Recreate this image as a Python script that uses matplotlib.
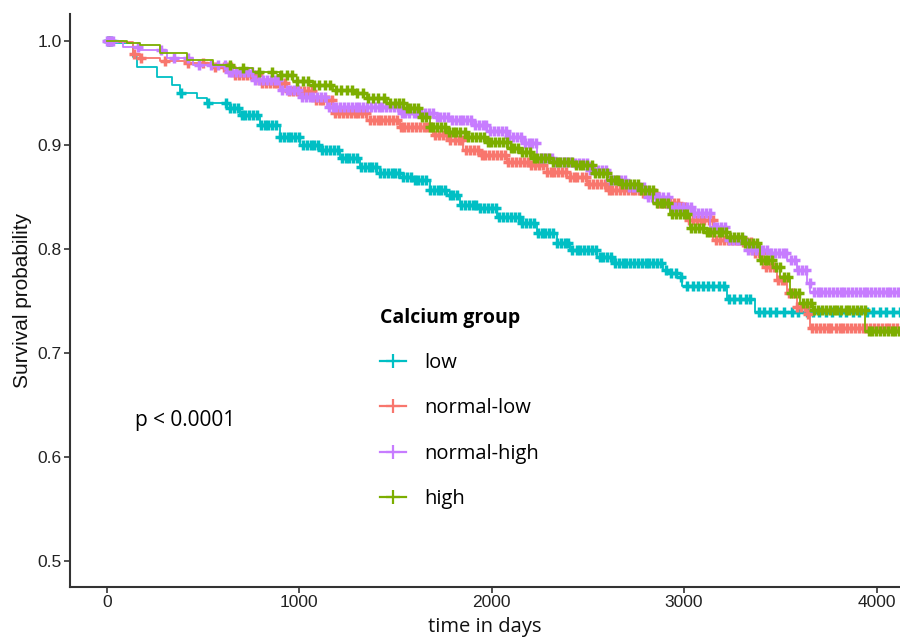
import numpy as np
import matplotlib
matplotlib.use("Agg")
import matplotlib.pyplot as plt
from matplotlib.lines import Line2D

plt.rcParams["font.family"] = ["Liberation Sans", "DejaVu Sans"]

# Kaplan-Meier steps (days, survival)
LOW_T = [0, 42, 135, 156, 260, 338, 379, 468, 520, 624, 691, 795, 899, 1003, 1107, 1211, 1315, 1419,
         1523, 1590, 1679, 1767, 1835, 1939, 2027, 2147, 2235, 2339, 2406, 2547, 2630, 2890, 2925, 2963,
         2989, 3223, 3368, 4130]
LOW_S = [1.0, 0.998, 0.985, 0.975, 0.965, 0.958, 0.950, 0.945, 0.940, 0.936, 0.929, 0.919, 0.908, 0.900,
         0.895, 0.888, 0.879, 0.873, 0.869, 0.866, 0.857, 0.852, 0.842, 0.839, 0.831, 0.825, 0.815, 0.806,
         0.799, 0.792, 0.787, 0.780, 0.777, 0.773, 0.764, 0.752, 0.739, 0.739]

NLOW_T = [0, 16, 135, 172, 275, 416, 551, 655, 795, 936, 1071, 1175, 1351, 1523, 1694, 1783, 1850, 1939,
          2079, 2199, 2287, 2391, 2495, 2599, 2786, 2859, 2978, 3015, 3150, 3290, 3358, 3410, 3482, 3534,
          3586, 3638, 3654, 4130]
NLOW_S = [1.0, 0.999, 0.988, 0.984, 0.981, 0.979, 0.975, 0.967, 0.960, 0.952, 0.943, 0.931, 0.924, 0.917,
          0.910, 0.905, 0.895, 0.890, 0.884, 0.881, 0.874, 0.869, 0.863, 0.857, 0.854, 0.844, 0.840, 0.828,
          0.809, 0.807, 0.796, 0.783, 0.770, 0.758, 0.744, 0.738, 0.724, 0.724]

NHIGH_T = [0, 83, 172, 312, 447, 624, 759, 899, 1003, 1143, 1523, 1694, 1783, 1902, 1975, 2079, 2162,
           2235, 2318, 2422, 2495, 2599, 2703, 2807, 2926, 3046, 3134, 3223, 3327, 3446, 3534, 3586, 3638,
           3654, 4130]
NHIGH_S = [1.0, 0.994, 0.991, 0.984, 0.977, 0.970, 0.963, 0.953, 0.946, 0.937, 0.931, 0.927, 0.924, 0.919,
           0.914, 0.908, 0.902, 0.888, 0.884, 0.883, 0.876, 0.866, 0.860, 0.850, 0.840, 0.835, 0.821, 0.809,
           0.799, 0.796, 0.789, 0.780, 0.767, 0.759, 0.759]

HIGH_T = [0, 104, 172, 275, 416, 551, 655, 759, 899, 967, 1071, 1175, 1279, 1351, 1455, 1559, 1627, 1679,
          1767, 1871, 1975, 2079, 2147, 2214, 2318, 2422, 2526, 2599, 2666, 2770, 2838, 2926, 3030, 3119,
          3238, 3306, 3394, 3462, 3498, 3550, 3602, 3670, 3940, 4130]
HIGH_S = [1.0, 0.998, 0.996, 0.989, 0.982, 0.977, 0.974, 0.970, 0.967, 0.962, 0.958, 0.953, 0.950, 0.945,
          0.940, 0.936, 0.927, 0.917, 0.913, 0.908, 0.903, 0.897, 0.893, 0.888, 0.884, 0.881, 0.873, 0.866,
          0.863, 0.857, 0.844, 0.834, 0.820, 0.816, 0.812, 0.806, 0.789, 0.783, 0.773, 0.758, 0.748, 0.741,
          0.721, 0.721]

# censoring times (the "+" ticks); dense runs form the thick bands
LOW_C = [5, 12, 20, 385, 525,
         620, 641, 659, 680, 701, 719, 740, 761, 779, 800, 821, 839, 860, 881, 899, 920, 941, 959, 980,
         1001, 1019, 1040, 1061, 1079, 1100, 1121, 1139, 1160, 1181, 1199, 1220, 1241, 1259, 1280, 1301,
         1319, 1340, 1361, 1379, 1400, 1421, 1439, 1460, 1481, 1499, 1520, 1541, 1559, 1580, 1601, 1619,
         1640, 1661, 1679, 1700, 1721, 1739, 1760, 1781, 1799, 1820, 1841, 1859, 1880, 1901, 1919, 1940,
         1961, 1979, 2000, 2021, 2039, 2060, 2081, 2099, 2120, 2141, 2159, 2180, 2201, 2219, 2240, 2261,
         2279, 2300, 2321, 2339, 2360, 2381, 2399, 2420, 2441, 2459, 2480, 2501, 2519, 2540, 2561, 2579,
         2600, 2621, 2639, 2660, 2681, 2699, 2720, 2741, 2759, 2780, 2801, 2819, 2840, 2861, 2879,
         2905, 2930, 2960, 2985, 3015, 3045, 3070, 3100, 3125, 3150, 3180, 3205, 3235, 3260, 3290, 3320,
         3345, 3390, 3415, 3445, 3480, 3520, 3560, 3590, 3640, 3670, 3700, 3740, 3770, 3810, 3840, 3880,
         3910, 3950, 3980, 4020, 4050, 4085, 4120]
NLOW_C = [10, 140, 180, 300, 420, 500, 560,
          607, 628, 646, 667, 688, 706, 727, 748, 766, 787, 808, 826, 847, 868, 886, 907, 928, 946, 967,
          988, 1006, 1027, 1048, 1066, 1087, 1108, 1126, 1147, 1168, 1186, 1207, 1228, 1246, 1267, 1288,
          1306, 1327, 1348, 1366, 1387, 1408, 1426, 1447, 1468, 1486, 1507, 1528, 1546, 1567, 1588, 1606,
          1627, 1648, 1666, 1687, 1708, 1726, 1747, 1768, 1786, 1807, 1828, 1846, 1867, 1888, 1906, 1927,
          1948, 1966, 1987, 2008, 2026, 2047, 2068, 2086, 2107, 2128, 2146, 2167, 2188, 2206, 2227, 2248,
          2266, 2287, 2308, 2326, 2347, 2368, 2386, 2407, 2428, 2446, 2467, 2488, 2506, 2527, 2548, 2566,
          2587, 2608, 2626, 2647, 2668, 2686, 2707, 2728, 2746, 2767, 2788, 2806, 2827, 2848, 2866, 2887,
          2908, 2926, 2947, 2968, 2986, 3007, 3028, 3046, 3067, 3088, 3106, 3127, 3148, 3166, 3187, 3208,
          3226, 3247, 3268, 3286, 3307, 3328, 3346, 3367, 3388, 3406, 3427, 3448, 3466, 3487, 3508, 3526,
          3547, 3568, 3586, 3607, 3628, 3646, 3667, 3688, 3706, 3727, 3748, 3766, 3787, 3808, 3826, 3847,
          3868, 3886, 3907, 3928, 3946, 3967, 3988, 4006, 4027, 4048, 4066, 4087, 4108]
NHIGH_C = [0, 10, 20, 30, 160, 280, 350, 420, 480, 540, 580,
           613, 634, 652, 673, 694, 712, 733, 754, 772, 793, 814, 832, 853, 874, 892, 913, 934, 952, 973,
           994, 1012, 1033, 1054, 1072, 1093, 1114, 1132, 1153, 1174, 1192, 1213, 1234, 1252, 1273, 1294,
           1312, 1333, 1354, 1372, 1393, 1414, 1432, 1453, 1474, 1492, 1513, 1534, 1552, 1573, 1594, 1612,
           1633, 1654, 1672, 1693, 1714, 1732, 1753, 1774, 1792, 1813, 1834, 1852, 1873, 1894, 1912, 1933,
           1954, 1972, 1993, 2014, 2032, 2053, 2074, 2092, 2113, 2134, 2152, 2173, 2194, 2212, 2233, 2254,
           2272, 2293, 2314, 2332, 2353, 2374, 2392, 2413, 2434, 2452, 2473, 2494, 2512, 2533, 2554, 2572,
           2593, 2614, 2632, 2653, 2674, 2692, 2713, 2734, 2752, 2773, 2794, 2812, 2833, 2854, 2872, 2893,
           2914, 2932, 2953, 2974, 2992, 3013, 3034, 3052, 3073, 3094, 3112, 3133, 3154, 3172, 3193, 3214,
           3232, 3253, 3274, 3292, 3313, 3334, 3352, 3373, 3394, 3412, 3433, 3454, 3472, 3493, 3514, 3532,
           3553, 3574, 3592, 3613, 3634, 3652, 3673, 3694, 3712, 3733, 3754, 3772, 3793, 3814, 3832, 3853,
           3874, 3892, 3913, 3934, 3952, 3973, 3994, 4012, 4033, 4054, 4072, 4093, 4114]
HIGH_C = [640, 707, 790, 860, 905, 935, 962, 990, 1021, 1048, 1077, 1105, 1133, 1160, 1190, 1217, 1246,
          1272, 1301, 1330, 1357, 1386, 1412, 1441, 1470, 1497, 1519,
          1538, 1559, 1577, 1598, 1619, 1637, 1658, 1679, 1697, 1718, 1739, 1757, 1778, 1799, 1817, 1838,
          1859, 1877, 1898, 1919, 1937, 1958, 1979, 1997, 2018, 2039, 2057, 2078, 2099, 2117, 2138, 2159,
          2177, 2198, 2219, 2237, 2258, 2279, 2297, 2318, 2339, 2357, 2378, 2399, 2417, 2438, 2459, 2477,
          2498, 2519, 2537, 2558, 2579, 2597, 2618, 2639, 2657, 2678, 2699, 2717, 2738, 2759, 2777, 2798,
          2819, 2837, 2858, 2879, 2897, 2918, 2939, 2957, 2978, 2999, 3017, 3038, 3059, 3077, 3098, 3119,
          3137, 3158, 3179, 3197, 3218, 3239, 3257, 3278, 3299, 3317, 3338, 3359, 3377, 3398, 3419, 3437,
          3458, 3479, 3497, 3518, 3539, 3557, 3578, 3599, 3617, 3638, 3659, 3677, 3698, 3719, 3737, 3758,
          3779, 3797, 3818, 3839, 3857, 3878, 3899, 3917, 3938, 3959, 3977, 3998, 4019, 4037, 4058, 4079,
          4097, 4118]

GROUPS = ["low", "normal-low", "normal-high", "high"]
COLORS = ["#00BFC4", "#F8766D", "#C77CFF", "#7CAE00"]
CURVES = [(LOW_T, LOW_S, LOW_C), (NLOW_T, NLOW_S, NLOW_C), (NHIGH_T, NHIGH_S, NHIGH_C), (HIGH_T, HIGH_S, HIGH_C)]


def step_value(times, surv, at):
    idx = np.searchsorted(np.asarray(times), np.asarray(at), side="right") - 1
    return np.asarray(surv)[np.clip(idx, 0, len(surv) - 1)]


fig = plt.figure(figsize=(9, 6.38), dpi=100, facecolor="white")
ax = fig.add_axes([0.0778, 0.0799, 0.9222, 0.8981])

for (times, surv, cens), color in zip(CURVES, COLORS):
    ax.plot(times, surv, drawstyle="steps-post", color=color, linewidth=1.3)
    ax.plot(cens, step_value(times, surv, cens), linestyle="none", marker="+", color=color,
            markersize=7.5, markeredgewidth=2.5)

ax.set_xlim(-191, 4122)
ax.set_ylim(0.475, 1.026)
ax.set_xticks([0, 1000, 2000, 3000, 4000])
ax.set_yticks([0.5, 0.6, 0.7, 0.8, 0.9, 1.0])
ax.set_yticklabels(["0.5", "0.6", "0.7", "0.8", "0.9", "1.0"])
ax.tick_params(axis="both", labelsize=12.5, colors="#333333", labelcolor="#222222", length=4, width=1.2, pad=2)

for spine in ["top", "right"]:
    ax.spines[spine].set_visible(False)
for spine in ["left", "bottom"]:
    ax.spines[spine].set_linewidth(1.5)
    ax.spines[spine].set_color("#333333")

ax.set_ylabel("Survival probability", fontsize=15, color="#111111", labelpad=4)
ax.set_xlabel("time in days", fontsize=14.5, family=["Open Sans", "DejaVu Sans"], color="#111111", labelpad=5)

ax.text(146, 0.6356, "p < 0.0001", fontsize=15, family=["Open Sans", "DejaVu Sans"], va="center", ha="left")

handles = [Line2D([], [], color=c, linewidth=1.6, marker="+", markersize=10, markeredgewidth=1.6) for c in COLORS]
legend = ax.legend(handles, GROUPS, title="Calcium group", loc="upper left", bbox_to_anchor=(362 / 900, 1 - 290 / 638),
                   bbox_transform=fig.transFigure, frameon=False, alignment="left",
                   prop={"family": ["Open Sans", "DejaVu Sans"], "size": 14.5},
                   title_fontproperties={"family": ["Open Sans", "DejaVu Sans"], "size": 14, "weight": "bold"},
                   labelspacing=1.25, handlelength=1.3, handletextpad=0.9)

fig.savefig("out.png", dpi=100)
